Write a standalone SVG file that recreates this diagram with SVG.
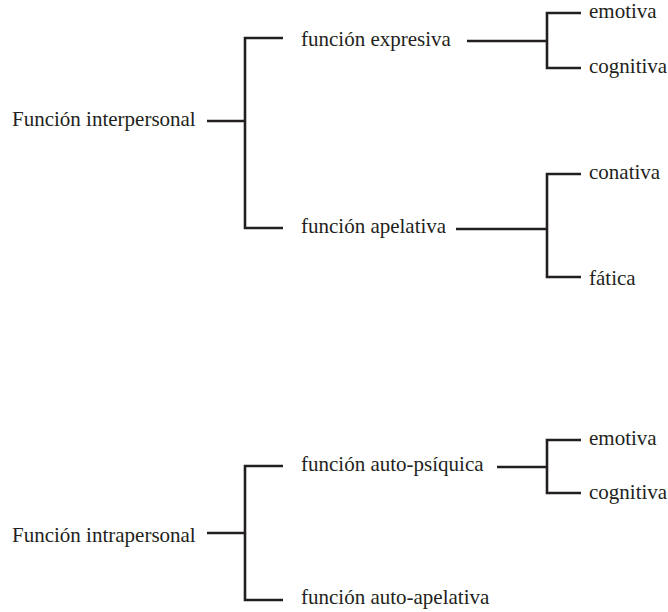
<svg xmlns="http://www.w3.org/2000/svg" width="668" height="612" viewBox="0 0 668 612">
<style>
text{font-family:"Liberation Serif","Times New Roman",serif;font-size:21px;fill:#231f20}
.c path{fill:none;stroke:#231f20;stroke-width:2.6;stroke-linecap:butt;stroke-linejoin:miter}
</style>
<rect width="668" height="612" fill="#fff"/>
<g class="c" id="connectors">
<path d="M207 121H245M283 38H245V228H283"/>
<path d="M467 41H547M581 13H547V68H581"/>
<path d="M456 229H547M581 174H547V277H581"/>
<path d="M207 533H245M283 466H245V600H283"/>
<path d="M497 467H547M581 440H547V493H581"/>
</g>
<g id="n1"><text x="12" y="126">Función interpersonal</text></g>
<g id="n2"><text x="301" y="46">función expresiva</text></g>
<g id="n3"><text x="589" y="18">emotiva</text></g>
<g id="n4"><text x="589" y="73">cognitiva</text></g>
<g id="n5"><text x="301" y="233">función apelativa</text></g>
<g id="n6"><text x="589" y="179">conativa</text></g>
<g id="n7"><text x="589" y="285">fática</text></g>
<g id="n8"><text x="12" y="542">Función intrapersonal</text></g>
<g id="n9"><text x="301" y="471">función auto-psíquica</text></g>
<g id="n10"><text x="589" y="445">emotiva</text></g>
<g id="n11"><text x="589" y="499">cognitiva</text></g>
<g id="n12"><text x="301" y="604">función auto-apelativa</text></g>
</svg>
